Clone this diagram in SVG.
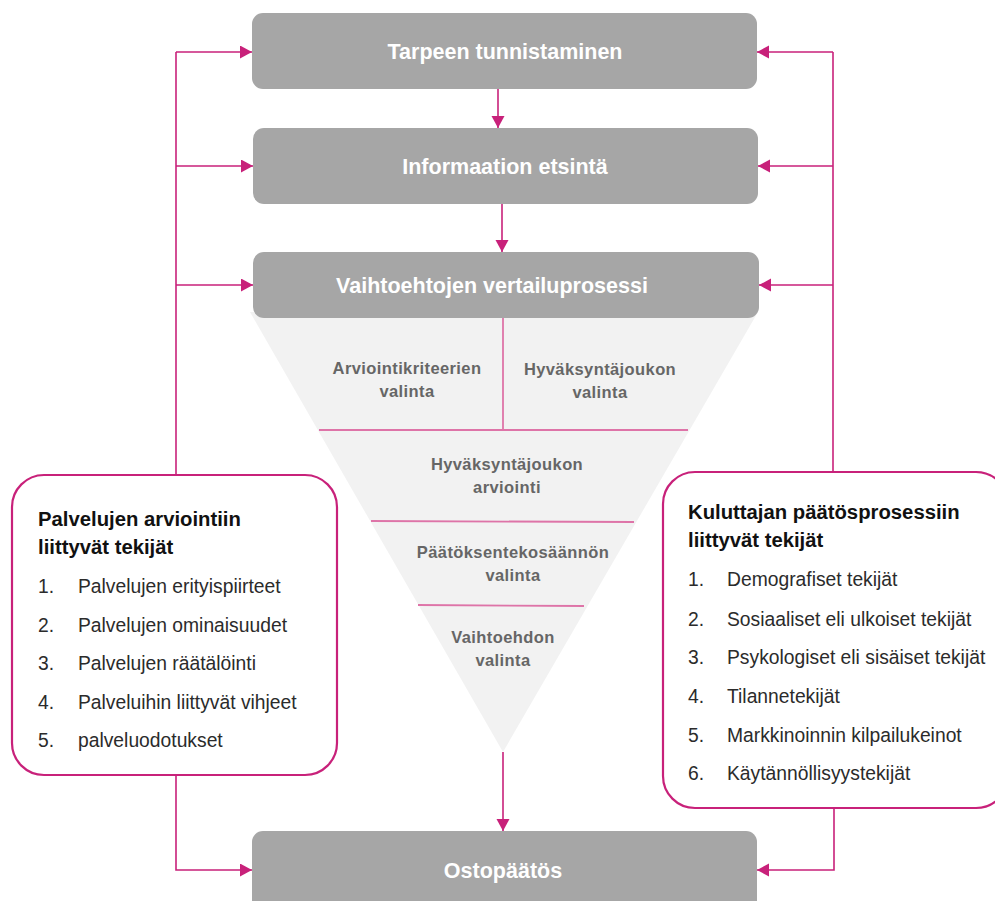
<svg xmlns="http://www.w3.org/2000/svg" width="995" height="901" viewBox="0 0 995 901">
<style>
.box{fill:#A6A6A6}
.boxt{font-family:"Liberation Sans",Arial,sans-serif;font-weight:bold;font-size:21.5px;fill:#FFFFFF;text-anchor:middle}
.tri{fill:#F2F2F2}
.trit{font-family:"Liberation Sans",Arial,sans-serif;font-weight:bold;font-size:16.5px;fill:#666666;text-anchor:middle;letter-spacing:0.4px}
.div{stroke:#DE74A8;stroke-width:1.8;fill:none}
.card{fill:#FFFFFF;stroke:#C8217A;stroke-width:2.2}
.ct{font-family:"Liberation Sans",Arial,sans-serif;font-weight:bold;font-size:20.3px;fill:#111111}
.it{font-family:"Liberation Sans",Arial,sans-serif;font-size:19.3px;fill:#2B2B2B}
.con{stroke:#C8217A;stroke-width:1.6;fill:none}
</style>
<defs>
<marker id="ah" markerUnits="userSpaceOnUse" markerWidth="14" markerHeight="14" refX="12" refY="6.5" orient="auto">
<path d="M0,0 L12,6.5 L0,13 Z" fill="#C8217A"/>
</marker>
</defs>

<g id="funnel">
<polygon class="tri" points="250,312 758,312 503,752"/>
<line class="div" x1="503" y1="318" x2="503" y2="430"/>
<line class="div" x1="319" y1="430" x2="688" y2="430"/>
<line class="div" x1="371" y1="521" x2="634" y2="522"/>
<line class="div" x1="418" y1="605" x2="584" y2="606"/>
<text class="trit" x="407" y="374">Arviointikriteerien</text>
<text class="trit" x="407" y="397">valinta</text>
<text class="trit" x="600" y="375">Hyväksyntäjoukon</text>
<text class="trit" x="600" y="398">valinta</text>
<text class="trit" x="507" y="470">Hyväksyntäjoukon</text>
<text class="trit" x="507" y="493">arviointi</text>
<text class="trit" x="513" y="558">Päätöksentekosäännön</text>
<text class="trit" x="513" y="581">valinta</text>
<text class="trit" x="503" y="643">Vaihtoehdon</text>
<text class="trit" x="503" y="666">valinta</text>
</g>

<g id="n1">
<rect class="box" x="252" y="13" width="505" height="76" rx="11"/>
<text class="boxt" x="505" y="59">Tarpeen tunnistaminen</text>
</g>
<g id="n2">
<rect class="box" x="253" y="128" width="505" height="76" rx="11"/>
<text class="boxt" x="505" y="174">Informaation etsintä</text>
</g>
<g id="n3">
<rect class="box" x="253" y="252" width="506" height="66" rx="11"/>
<text class="boxt" x="492" y="293">Vaihtoehtojen vertailuprosessi</text>
</g>
<g id="n4">
<rect class="box" x="252" y="831" width="505" height="80" rx="11"/>
<text class="boxt" x="503" y="878">Ostopäätös</text>
</g>

<g id="leftcard">
<rect class="card" x="12" y="475" width="325" height="300" rx="32"/>
<text class="ct" x="38" y="526">Palvelujen arviointiin</text>
<text class="ct" x="38" y="554">liittyvät tekijät</text>
<text class="it" x="38" y="593">1.</text><text class="it" x="78" y="593">Palvelujen erityispiirteet</text>
<text class="it" x="38" y="632">2.</text><text class="it" x="78" y="632">Palvelujen ominaisuudet</text>
<text class="it" x="38" y="670">3.</text><text class="it" x="78" y="670">Palvelujen räätälöinti</text>
<text class="it" x="38" y="709">4.</text><text class="it" x="78" y="709">Palveluihin liittyvät vihjeet</text>
<text class="it" x="38" y="747">5.</text><text class="it" x="78" y="747">palveluodotukset</text>
</g>

<g id="rightcard">
<rect class="card" x="663" y="472" width="345" height="336" rx="32"/>
<text class="ct" x="688" y="519">Kuluttajan päätösprosessiin</text>
<text class="ct" x="688" y="547">liittyvät tekijät</text>
<text class="it" x="688" y="586">1.</text><text class="it" x="727" y="586">Demografiset tekijät</text>
<text class="it" x="688" y="626">2.</text><text class="it" x="727" y="626">Sosiaaliset eli ulkoiset tekijät</text>
<text class="it" x="688" y="664">3.</text><text class="it" x="727" y="664">Psykologiset eli sisäiset tekijät</text>
<text class="it" x="688" y="703">4.</text><text class="it" x="727" y="703">Tilannetekijät</text>
<text class="it" x="688" y="742">5.</text><text class="it" x="727" y="742">Markkinoinnin kilpailukeinot</text>
<text class="it" x="688" y="780">6.</text><text class="it" x="727" y="780">Käytännöllisyystekijät</text>
</g>

<g id="connectors">
<line class="con" x1="498" y1="89" x2="498" y2="128" marker-end="url(#ah)"/>
<line class="con" x1="502" y1="204" x2="502" y2="252" marker-end="url(#ah)"/>
<line class="con" x1="503" y1="752" x2="503" y2="831" marker-end="url(#ah)"/>
<polyline class="con" points="176,475 176,52"/>
<line class="con" x1="176" y1="52" x2="252" y2="52" marker-end="url(#ah)"/>
<line class="con" x1="176" y1="166" x2="253" y2="166" marker-end="url(#ah)"/>
<line class="con" x1="176" y1="285" x2="253" y2="285" marker-end="url(#ah)"/>
<polyline class="con" points="176,775 176,870 252,870" marker-end="url(#ah)"/>
<polyline class="con" points="833,472 833,52"/>
<line class="con" x1="833" y1="52" x2="757" y2="52" marker-end="url(#ah)"/>
<line class="con" x1="833" y1="166" x2="758" y2="166" marker-end="url(#ah)"/>
<line class="con" x1="833" y1="285" x2="759" y2="285" marker-end="url(#ah)"/>
<polyline class="con" points="834,808 834,870 757,870" marker-end="url(#ah)"/>
</g>
</svg>
